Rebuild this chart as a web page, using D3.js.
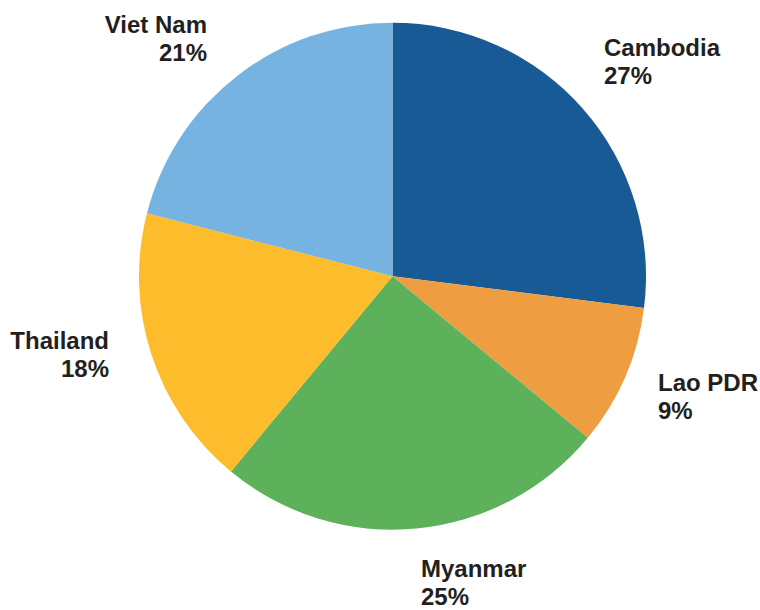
<!DOCTYPE html>
<html>
<head>
<meta charset="utf-8">
<script src="https://cdn.jsdelivr.net/npm/d3@7"></script>
<style>
  html, body { margin: 0; padding: 0; background: #fff; }
  svg { display: block; }
  text { font-family: "Liberation Sans", Arial, sans-serif; font-weight: bold; font-size: 24px; fill: #231f20; }
</style>
</head>
<body>
<svg id="chart" width="760" height="610"></svg>
<script>
const categories = ["Cambodia", "Lao PDR", "Myanmar", "Thailand", "Viet Nam"];
const values = [27, 9, 25, 18, 21];
const colors = ["#185a96", "#ee9d41", "#5db15b", "#fcbc2b", "#77b3e0"];

const svg = d3.select("#chart");
const cx = 392.5, cy = 276.2, r = 253.5;

const data = categories.map((c, i) => ({ name: c, value: values[i], color: colors[i] }));
const pie = d3.pie().value(d => d.value).sort(null);
const arc = d3.arc().innerRadius(0).outerRadius(r);

const g = svg.append("g").attr("transform", `translate(${cx},${cy})`);
g.selectAll("path")
  .data(pie(data))
  .join("path")
  .attr("d", arc)
  .attr("fill", d => d.data.color);

// label placement (anchor, x, y of first baseline)
const labelPos = {
  "Cambodia": { x: 604, y: 56, anchor: "start" },
  "Lao PDR": { x: 658, y: 391, anchor: "start" },
  "Myanmar": { x: 421, y: 577, anchor: "start" },
  "Thailand": { x: 109, y: 349, anchor: "end" },
  "Viet Nam": { x: 207, y: 33, anchor: "end" }
};

data.forEach(d => {
  const p = labelPos[d.name];
  const t = svg.append("text")
    .attr("x", p.x).attr("y", p.y)
    .attr("text-anchor", p.anchor);
  t.append("tspan").attr("x", p.x).attr("y", p.y).text(d.name);
  t.append("tspan").attr("x", p.x).attr("y", p.y + 28).text(d.value + "%");
});
</script>
</body>
</html>
